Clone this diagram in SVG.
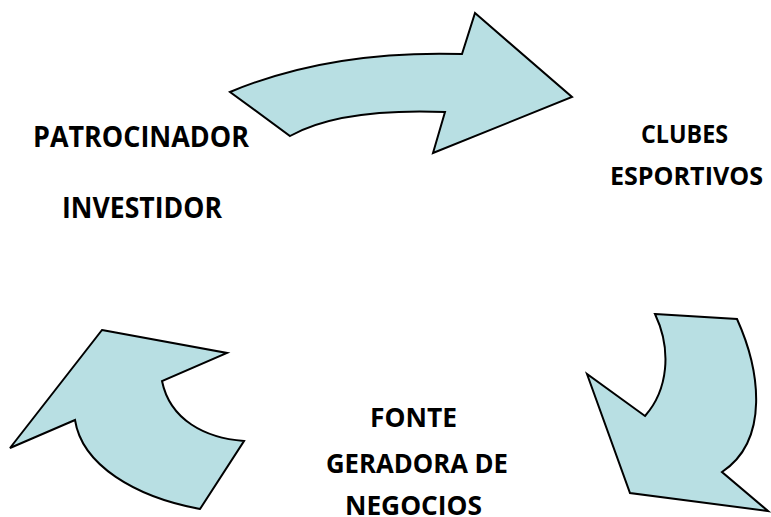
<svg xmlns="http://www.w3.org/2000/svg" width="771" height="517" viewBox="0 0 771 517">
<style>
.lbl{font-family:"Open Sans",Lato,"Liberation Sans",sans-serif;font-weight:bold;fill:#000;text-anchor:middle}
.big{font-size:28px}
.mid{font-size:27px}
.sm{font-size:24.5px}
.arr{fill:#B8DFE3;stroke:#000;stroke-width:2;stroke-linejoin:miter}
</style>
<rect width="771" height="517" fill="#fff"/>
<g id="connectors">
<path class="arr" d="M230,92 Q330,50 462,54 L475,13 L572,97 L433,153 L445,112 Q340,108 290,136 Z"/>
<path class="arr" d="M655,314 L737,319 C760,370 770,440 722,472 L768,511 L630,493 L587,374 L645,416 C668,390 672,350 655,314 Z"/>
<path class="arr" d="M102,330 L227,353 L162,381 C170,420 205,438 244,441 L200,509 C135,497 82,465 75,420 L10,448 Z"/>
</g>
<g id="patrocinador">
<text class="lbl big" x="141" y="147" textLength="216" lengthAdjust="spacingAndGlyphs">PATROCINADOR</text>
<text class="lbl big" x="142" y="218" textLength="160" lengthAdjust="spacingAndGlyphs">INVESTIDOR</text>
</g>
<g id="clubes">
<text class="lbl sm" x="684.5" y="143" textLength="87" lengthAdjust="spacingAndGlyphs">CLUBES</text>
<text class="lbl sm" x="686.5" y="185" textLength="153" lengthAdjust="spacingAndGlyphs">ESPORTIVOS</text>
</g>
<g id="fonte">
<text class="lbl mid" x="413.5" y="427" textLength="87" lengthAdjust="spacingAndGlyphs">FONTE</text>
<text class="lbl mid" x="417" y="473" textLength="182" lengthAdjust="spacingAndGlyphs">GERADORA DE</text>
<text class="lbl mid" x="413.5" y="514.5" textLength="137" lengthAdjust="spacingAndGlyphs">NEGOCIOS</text>
</g>
</svg>
